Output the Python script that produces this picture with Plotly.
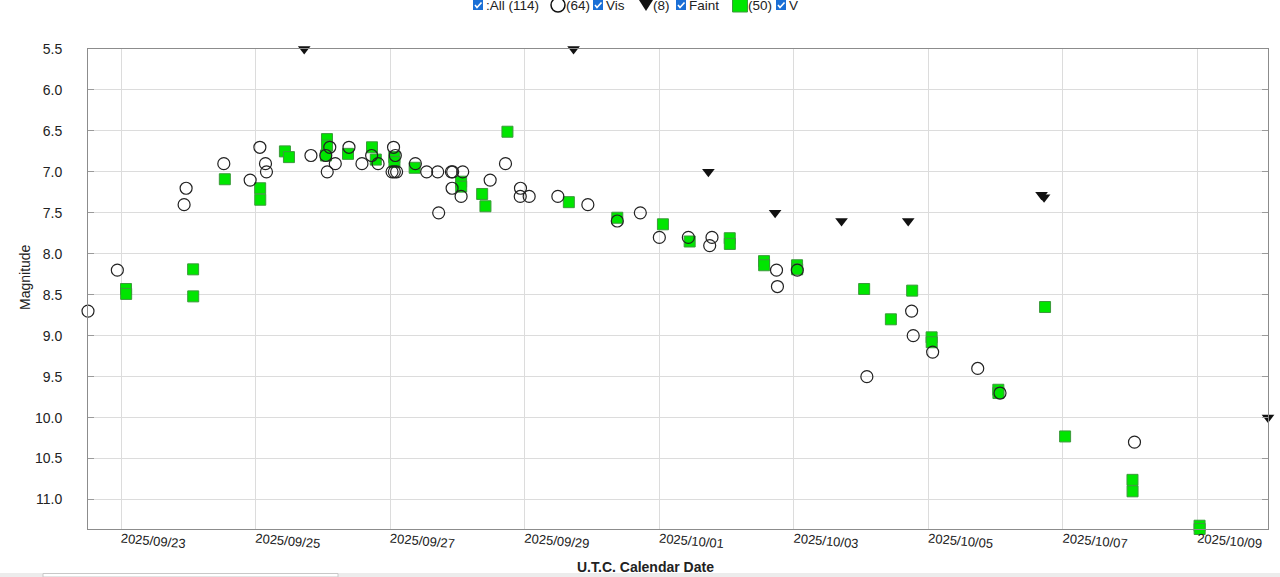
import pandas as pd
import plotly.graph_objects as go

# --- observations (UTC, magnitude) ---
vis_dates = [
    "2025-09-22 12:13", "2025-09-22 22:41", "2025-09-23 22:30", "2025-09-23 23:13",
    "2025-09-24 12:40", "2025-09-24 22:04", "2025-09-25 01:32", "2025-09-25 03:32",
    "2025-09-25 03:53", "2025-09-25 19:45", "2025-09-26 01:02", "2025-09-26 02:28",
    "2025-09-26 01:34", "2025-09-26 04:26", "2025-09-26 09:19", "2025-09-26 13:57",
    "2025-09-26 17:24", "2025-09-26 19:42", "2025-09-27 01:13", "2025-09-27 01:51",
    "2025-09-27 00:41", "2025-09-27 01:30", "2025-09-27 02:19", "2025-09-27 09:00",
    "2025-09-27 13:02", "2025-09-27 16:58", "2025-09-27 17:19", "2025-09-27 21:51",
    "2025-09-27 22:19", "2025-09-27 22:06", "2025-09-28 01:19", "2025-09-28 01:54",
    "2025-09-28 11:41", "2025-09-28 17:09", "2025-09-28 22:30", "2025-09-28 22:25",
    "2025-09-29 01:36", "2025-09-29 11:50", "2025-09-29 22:32", "2025-09-30 09:02",
    "2025-09-30 17:15", "2025-10-01 00:02", "2025-10-01 10:23", "2025-10-01 18:00",
    "2025-10-01 18:49", "2025-10-02 17:50", "2025-10-02 18:10", "2025-10-03 01:15",
    "2025-10-04 02:04", "2025-10-04 18:02", "2025-10-04 18:36", "2025-10-05 01:32",
    "2025-10-05 17:37", "2025-10-06 01:34", "2025-10-08 01:32",
]
vis_mags = [
    8.7, 8.2, 7.4, 7.2,
    6.9, 7.1, 6.7, 6.9,
    7.0, 6.8, 6.8, 6.7,
    7.0, 6.9, 6.7, 6.9,
    6.8, 6.9, 6.7, 6.8,
    7.0, 7.0, 7.0, 6.9,
    7.0, 7.0, 7.5, 7.0,
    7.0, 7.2, 7.3, 7.0,
    7.1, 6.9, 7.2, 7.3,
    7.3, 7.3, 7.4, 7.6,
    7.5, 7.8, 7.8, 7.9,
    7.8, 8.2, 8.4, 8.2,
    9.5, 8.7, 9.0, 9.2,
    9.4, 9.7, 10.3,
]

faint_dates = [
    "2025-09-25 17:21", "2025-09-29 17:26", "2025-10-01 17:32", "2025-10-02 17:20",
    "2025-10-03 17:02", "2025-10-04 16:49", "2025-10-06 16:23", "2025-10-06 17:17",
    "2025-10-10 01:10",
]
faint_mags = [5.5, 5.5, 7.0, 7.5, 7.6, 7.6, 7.28, 7.31, 10.0]

v_dates = [
    "2025-09-23 01:47", "2025-09-23 01:50", "2025-09-24 01:43", "2025-09-24 01:45",
    "2025-09-24 13:02", "2025-09-25 01:38", "2025-09-25 01:40", "2025-09-25 10:28",
    "2025-09-25 11:54", "2025-09-26 01:28", "2025-09-26 01:30", "2025-09-26 01:06",
    "2025-09-26 08:58", "2025-09-26 17:32", "2025-09-26 18:53", "2025-09-27 01:30",
    "2025-09-27 01:32", "2025-09-27 08:45", "2025-09-28 01:19", "2025-09-28 01:21",
    "2025-09-28 08:50", "2025-09-28 10:00", "2025-09-28 17:51", "2025-09-29 15:45",
    "2025-09-30 09:02", "2025-10-01 01:19", "2025-10-01 10:51", "2025-10-02 01:09",
    "2025-10-02 01:11", "2025-10-02 13:23", "2025-10-02 13:25", "2025-10-03 01:10",
    "2025-10-03 01:12", "2025-10-04 01:06", "2025-10-04 10:38", "2025-10-04 18:14",
    "2025-10-05 01:10", "2025-10-05 01:12", "2025-10-06 00:58", "2025-10-06 01:00",
    "2025-10-06 17:38", "2025-10-07 00:47", "2025-10-08 00:49", "2025-10-08 00:51",
    "2025-10-09 00:45", "2025-10-09 00:47",
]
v_mags = [
    8.43, 8.49, 8.19, 8.52,
    7.09, 7.20, 7.34, 6.75,
    6.82, 6.60, 6.68, 6.80,
    6.78, 6.70, 6.85, 6.82,
    6.88, 6.95, 7.12, 7.18,
    7.27, 7.42, 6.51, 7.37,
    7.56, 7.64, 7.85, 7.81,
    7.88, 8.09, 8.14, 8.14,
    8.19, 8.43, 8.80, 8.45,
    9.02, 9.08, 9.66, 9.70,
    8.65, 10.23, 10.76, 10.90,
    11.32, 11.36,
]

legend_items = [":All (114)", "(64)", "Vis", "(8)", "Faint", "(50)", "V"]

GREEN = "#00e600"
GREEN_EDGE = "#3c9a3c"
BOX_BLUE = "#1a6fd6"

vis_x = pd.to_datetime(vis_dates)
faint_x = pd.to_datetime(faint_dates)
v_x = pd.to_datetime(v_dates)

all_x = vis_x.append(faint_x).append(v_x)
all_y = vis_mags + faint_mags + v_mags

fig = go.Figure()

fig.add_trace(go.Scatter(
    x=v_x, y=v_mags, mode="markers", name="V", cliponaxis=False,
    marker=dict(symbol="square", size=11, color=GREEN,
                line=dict(color=GREEN_EDGE, width=1)),
))
fig.add_trace(go.Scatter(
    x=vis_x, y=vis_mags, mode="markers", name="Vis", cliponaxis=False,
    marker=dict(symbol="circle-open", size=12, color="#222222",
                line=dict(width=1.2)),
))
fig.add_trace(go.Scatter(
    x=faint_x, y=faint_mags, mode="markers", name="Faint", cliponaxis=False,
    marker=dict(symbol="triangle-down", size=11, color="#111111"),
))

# --- legend row drawn by hand (checkboxes + symbols) ---
W, H = 1280, 577
ML, MR, MT, MB = 88, 12, 49, 48
PW, PH = W - ML - MR, H - MT - MB


def px(x):
    return (x - ML) / PW


def py(y):
    return (H - MB - y) / PH


LEG_Y = 5
shapes = []
annotations = []


def checkbox(x):
    shapes.append(dict(type="rect", xref="paper", yref="paper",
                       xsizemode="pixel", ysizemode="pixel",
                       xanchor=px(x), yanchor=py(LEG_Y),
                       x0=-5, x1=5, y0=-5, y1=5,
                       fillcolor=BOX_BLUE, line=dict(width=0)))
    shapes.append(dict(type="path", xref="paper", yref="paper",
                       xsizemode="pixel", ysizemode="pixel",
                       xanchor=px(x), yanchor=py(LEG_Y),
                       path="M -3,0 L -1,-2.5 L 3.5,2.5",
                       line=dict(color="white", width=1.6)))


def label(x, text):
    annotations.append(dict(x=px(x), y=py(LEG_Y), xref="paper", yref="paper",
                            text=text, showarrow=False, xanchor="left",
                            yanchor="middle", font=dict(size=13.5, color="#222222")))


checkbox(478)
label(484, legend_items[0])
shapes.append(dict(type="circle", xref="paper", yref="paper",
                   xsizemode="pixel", ysizemode="pixel",
                   xanchor=px(558), yanchor=py(LEG_Y),
                   x0=-7, x1=7, y0=-7, y1=7,
                   line=dict(color="#111111", width=1.5)))
label(564, legend_items[1])
checkbox(598)
label(604, legend_items[2])
shapes.append(dict(type="path", xref="paper", yref="paper",
                   xsizemode="pixel", ysizemode="pixel",
                   xanchor=px(646), yanchor=py(LEG_Y),
                   path="M -7,5 L 7,5 L 0,-6 Z",
                   fillcolor="#111111", line=dict(width=0)))
label(651, legend_items[3])
checkbox(681)
label(687, legend_items[4])
shapes.append(dict(type="rect", xref="paper", yref="paper",
                   xsizemode="pixel", ysizemode="pixel",
                   xanchor=px(740), yanchor=py(LEG_Y),
                   x0=-7.5, x1=7.5, y0=-7, y1=8,
                   fillcolor=GREEN, line=dict(color=GREEN_EDGE, width=1)))
label(746, legend_items[5])
checkbox(781)
label(787, legend_items[6])

# axis titles
annotations.append(dict(x=px(25), y=py(277), xref="paper", yref="paper",
                        xanchor="center", yanchor="middle",
                        text="Magnitude", textangle=-90, showarrow=False,
                        font=dict(size=14, color="#222222")))
annotations.append(dict(x=px(645), y=py(567), xref="paper", yref="paper",
                        xanchor="center", yanchor="middle",
                        text="<b>U.T.C. Calendar Date</b>", showarrow=False,
                        font=dict(size=14, color="#222222")))

# page strip at the very bottom
shapes.append(dict(type="rect", xref="paper", yref="paper",
                   x0=px(0), x1=px(W), y0=py(577), y1=py(573),
                   fillcolor="#ececec", line=dict(width=0), layer="below"))
shapes.append(dict(type="rect", xref="paper", yref="paper",
                   x0=px(43), x1=px(338), y0=py(577), y1=py(573.5),
                   fillcolor="white", line=dict(color="#c8c8c8", width=1), layer="below"))

fig.update_layout(
    width=W, height=H,
    margin=dict(l=ML, r=MR, t=MT, b=MB),
    paper_bgcolor="white", plot_bgcolor="white",
    showlegend=False,
    font=dict(family="Liberation Sans, Arial, sans-serif", size=13, color="#222222"),
    shapes=shapes,
    annotations=annotations,
    xaxis=dict(
        range=[all_x.min(), all_x.max()],
        type="date", tick0="2025-09-23", dtick=2 * 86400000,
        tickformat="%Y/%m/%d", tickangle=5,
        showgrid=True, gridcolor="#dcdcdc", gridwidth=1,
        showline=True, linecolor="#8c8c8c", linewidth=1, mirror=True,
        ticks="", zeroline=False, ticklabelstandoff=-3,
        tickfont=dict(size=13, color="#222222"),
    ),
    yaxis=dict(
        range=[max(all_y), min(all_y)],
        tick0=5.5, dtick=0.5, tickformat=".1f",
        showgrid=True, gridcolor="#dcdcdc", gridwidth=1,
        showline=True, linecolor="#8c8c8c", linewidth=1, mirror="ticks",
        ticks="inside", ticklen=6, tickcolor="#9a9a9a",
        ticklabelstandoff=22, zeroline=False,
        tickfont=dict(size=14, color="#222222"),
    ),
)

# page has no body margin in the reference screenshot
fig.write_html("out.html", config={"displayModeBar": False},
               post_script="document.body.style.margin='0px';")
